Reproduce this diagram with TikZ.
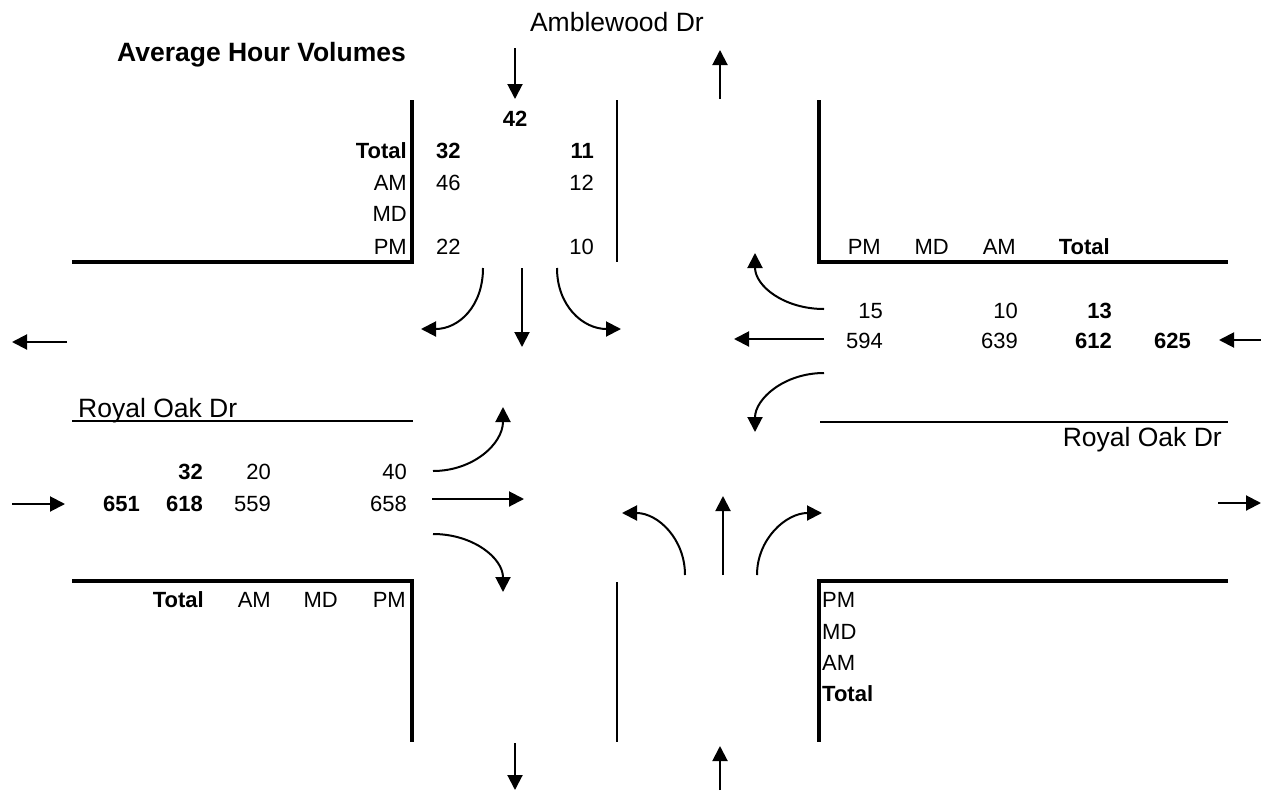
\documentclass[tikz,border=0pt]{standalone}
\usepackage{fontspec}
\setmainfont{Liberation Sans}
\usetikzlibrary{arrows.meta}

\begin{document}
\begin{tikzpicture}[x=1pt,y=-1pt]
    \tikzset{cell/.style = {inner sep=0pt,font=\fontsize{22}{26}\selectfont}}
    \tikzset{bcell/.style = {inner sep=0pt,font=\fontsize{22}{26}\selectfont\bfseries}}
    \tikzset{street/.style = {inner sep=0pt,font=\fontsize{26.5}{31}\selectfont}}
    \tikzset{edge/.style = {line width=2pt,-{Triangle[length=15pt,width=15pt]}}}
    \tikzset{curb/.style = {line width=1.5pt}}
    \tikzset{frame/.style = {line width=3.5pt}}

    \useasboundingbox (0,0) rectangle (1261,790);

    % titles and streets
    \node[street,font=\fontsize{26.5}{31}\selectfont\bfseries,anchor=base east] (title) at (406,61) {Average Hour Volumes};
    \node[street,anchor=base east] (amb) at (704,31) {Amblewood Dr};
    \node[street,anchor=base west] (royW) at (78,417) {Royal Oak Dr};
    \node[street,anchor=base east] (royE) at (1222,446) {Royal Oak Dr};

    % road edges
    \draw[curb] (617,100) -- (617,262);
    \draw[curb] (72,421) -- (413,421);
    \draw[curb] (820,422) -- (1228,422);
    \draw[curb] (617,582) -- (617,742);

    % table frames
    \draw[frame] (412,100) -- (412,262) -- (72,262);
    \draw[frame] (819,100) -- (819,262) -- (1228,262);
    \draw[frame] (72,581) -- (412,581) -- (412,742);
    \draw[frame] (1228,581) -- (819,581) -- (819,742);

    % north leg
    \node[bcell,anchor=base east] (nTot) at (407,158) {Total};
    \node[cell,anchor=base east] (nAM) at (407,190) {AM};
    \node[cell,anchor=base east] (nMD) at (407,221) {MD};
    \node[cell,anchor=base east] (nPM) at (407,254) {PM};
    \node[bcell,anchor=base] (nSum) at (515,126) {42};
    \node[bcell,anchor=base west] (nTotL) at (436,158) {32};
    \node[bcell,anchor=base east] (nTotR) at (594,158) {11};
    \node[cell,anchor=base west] (nAML) at (436,190) {46};
    \node[cell,anchor=base east] (nAMR) at (594,190) {12};
    \node[cell,anchor=base west] (nPML) at (436,254) {22};
    \node[cell,anchor=base east] (nPMR) at (594,254) {10};

    % east leg
    \node[cell,anchor=base east] (ePM) at (881,254) {PM};
    \node[cell,anchor=base east] (eMD) at (949,254) {MD};
    \node[cell,anchor=base east] (eAM) at (1016,254) {AM};
    \node[bcell,anchor=base east] (eTot) at (1110,254) {Total};
    \node[cell,anchor=base east] (ePMR) at (883,318) {15};
    \node[cell,anchor=base east] (eAMR) at (1018,318) {10};
    \node[bcell,anchor=base east] (eTotR) at (1112,318) {13};
    \node[cell,anchor=base east] (ePMT) at (883,348) {594};
    \node[cell,anchor=base east] (eAMT) at (1018,348) {639};
    \node[bcell,anchor=base east] (eTotT) at (1112,348) {612};
    \node[bcell,anchor=base east] (eSum) at (1191,348) {625};

    % west leg
    \node[bcell,anchor=base east] (wTotL) at (203,479) {32};
    \node[cell,anchor=base east] (wAML) at (271,479) {20};
    \node[cell,anchor=base east] (wPML) at (407,479) {40};
    \node[bcell,anchor=base east] (wSum) at (140,511) {651};
    \node[bcell,anchor=base east] (wTotT) at (203,511) {618};
    \node[cell,anchor=base east] (wAMT) at (271,511) {559};
    \node[cell,anchor=base east] (wPMT) at (407,511) {658};
    \node[bcell,anchor=base east] (wTot) at (204,607) {Total};
    \node[cell,anchor=base east] (wAM) at (271,607) {AM};
    \node[cell,anchor=base east] (wMD) at (338,607) {MD};
    \node[cell,anchor=base east] (wPM) at (406,607) {PM};

    % south leg
    \node[cell,anchor=base west] (sPM) at (822,607) {PM};
    \node[cell,anchor=base west] (sMD) at (822,639) {MD};
    \node[cell,anchor=base west] (sAM) at (822,670) {AM};
    \node[bcell,anchor=base west] (sTot) at (822,701) {Total};

    % approach arrows
    \coordinate (nIn0) at (515,48);   \coordinate (nIn1) at (515,99);
    \coordinate (nOut0) at (720,99);  \coordinate (nOut1) at (720,50);
    \coordinate (wOut0) at (67,342);  \coordinate (wOut1) at (12,342);
    \coordinate (wIn0) at (12,504);   \coordinate (wIn1) at (65,504);
    \coordinate (eIn0) at (1261,340); \coordinate (eIn1) at (1219,340);
    \coordinate (eOut0) at (1218,503); \coordinate (eOut1) at (1261,503);
    \coordinate (sOut0) at (515,743); \coordinate (sOut1) at (515,790);
    \coordinate (sIn0) at (720,790);  \coordinate (sIn1) at (720,746);
    \draw[edge] (nIn0) -- (nIn1);
    \draw[edge] (nOut0) -- (nOut1);
    \draw[edge] (wOut0) -- (wOut1);
    \draw[edge] (wIn0) -- (wIn1);
    \draw[edge] (eIn0) -- (eIn1);
    \draw[edge] (eOut0) -- (eOut1);
    \draw[edge] (sOut0) -- (sOut1);
    \draw[edge] (sIn0) -- (sIn1);

    % turning movements
    \coordinate (sbL0) at (483,268); \coordinate (sbL1) at (421,329);
    \coordinate (sbT0) at (522,268); \coordinate (sbT1) at (522,347);
    \coordinate (sbR0) at (557,268); \coordinate (sbR1) at (621,329);
    \draw[edge] (sbL0) .. controls +(0,38) and +(38,0) .. (sbL1);
    \draw[edge] (sbT0) -- (sbT1);
    \draw[edge] (sbR0) .. controls +(0,38) and +(-38,0) .. (sbR1);

    \coordinate (wbU0) at (824,309); \coordinate (wbU1) at (755,253);
    \coordinate (wbT0) at (824,339); \coordinate (wbT1) at (734,339);
    \coordinate (wbD0) at (824,373); \coordinate (wbD1) at (755,432);
    \draw[edge] (wbU0) .. controls +(-40,0) and +(0,33) .. (wbU1);
    \draw[edge] (wbT0) -- (wbT1);
    \draw[edge] (wbD0) .. controls +(-40,0) and +(0,-33) .. (wbD1);

    \coordinate (ebU0) at (433,471); \coordinate (ebU1) at (503,407);
    \coordinate (ebT0) at (432,499); \coordinate (ebT1) at (524,499);
    \coordinate (ebD0) at (433,534); \coordinate (ebD1) at (503,592);
    \draw[edge] (ebU0) .. controls +(40,0) and +(0,37) .. (ebU1);
    \draw[edge] (ebT0) -- (ebT1);
    \draw[edge] (ebD0) .. controls +(40,0) and +(0,-34) .. (ebD1);

    \coordinate (nbL0) at (685,575); \coordinate (nbL1) at (622,513);
    \coordinate (nbT0) at (723,575); \coordinate (nbT1) at (723,496);
    \coordinate (nbR0) at (757,575); \coordinate (nbR1) at (822,513);
    \draw[edge] (nbL0) .. controls +(0,-36) and +(36,0) .. (nbL1);
    \draw[edge] (nbT0) -- (nbT1);
    \draw[edge] (nbR0) .. controls +(0,-36) and +(-36,0) .. (nbR1);
\end{tikzpicture}
\end{document}
